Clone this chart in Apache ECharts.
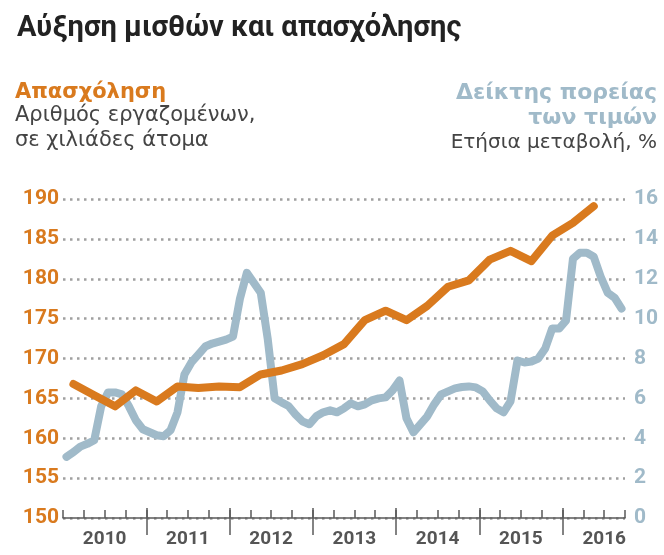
<!DOCTYPE html>
<html>
<head>
<meta charset="utf-8">
<script src="https://cdn.jsdelivr.net/npm/echarts@6/dist/echarts.min.js"></script>
<style>
html,body{margin:0;padding:0;background:#fff;}
#chart{width:664px;height:555px;}
</style>
</head>
<body>
<div id="chart"></div>
<script>
// ---- data ----
const empQuarters = ['2010Q1','2010Q2','2010Q3','2010Q4','2011Q1','2011Q2','2011Q3','2011Q4',
  '2012Q1','2012Q2','2012Q3','2012Q4','2013Q1','2013Q2','2013Q3','2013Q4',
  '2014Q1','2014Q2','2014Q3','2014Q4','2015Q1','2015Q2','2015Q3','2015Q4','2016Q1','2016Q2'];
const employment = [166.8,165.4,164.0,166.0,164.6,166.5,166.3,166.5,
  166.4,168.0,168.5,169.3,170.4,171.8,174.8,176.0,
  174.8,176.6,179.0,179.8,182.4,183.5,182.2,185.4,187.0,189.1];

const cpiMonths = [];
for (let y = 2010; y <= 2016; y++) for (let m = 1; m <= 12; m++) {
  if (y === 2016 && m > 9) break;
  cpiMonths.push(y + '-' + String(m).padStart(2, '0'));
}
const priceIndex = [3.07,3.3,3.58,3.72,3.9,5.6,6.3,6.3,6.2,5.6,4.9,4.45,
  4.3,4.15,4.1,4.4,5.3,7.2,7.8,8.2,8.6,8.75,8.85,8.95,
  9.1,11.0,12.3,11.8,11.3,9.0,6.0,5.8,5.62,5.2,4.85,4.7,
  5.1,5.3,5.4,5.3,5.5,5.75,5.6,5.7,5.9,6.0,6.05,6.4,
  6.9,5.0,4.3,4.7,5.1,5.7,6.2,6.35,6.5,6.57,6.6,6.55,
  6.35,5.9,5.5,5.3,5.85,7.9,7.8,7.85,8.0,8.5,9.5,9.5,
  9.9,13.0,13.3,13.3,13.1,12.1,11.3,11.05,10.5];

const leftTicks = [150,155,160,165,170,175,180,185,190];
const rightTicks = [0,2,4,6,8,10,12,14,16];
const yearLabels = ['2010','2011','2012','2013','2014','2015','2016'];

// ---- helpers (date -> fractional year) ----
function quarterToX(q){ const y = +q.slice(0,4), n = +q.slice(5); return y + (n - 0.5) / 4; }
function monthToX(s){ const y = +s.slice(0,4), m = +s.slice(5); return y + (m - 0.5) / 12; }

const empData = empQuarters.map((q, i) => [quarterToX(q), employment[i]]);
const cpiData = cpiMonths.map((s, i) => [monthToX(s), priceIndex[i]]).slice(0, priceIndex.length);

const ORANGE = '#d97a1e';
const BLUE = '#a0bac9';
const X_MIN = 2010, X_MAX = 2016.75;

const chart = echarts.init(document.getElementById('chart'));
chart.setOption({
  animation: false,
  backgroundColor: '#fff',
  grid: [
    {left: 63, right: 39, top: 199, bottom: 37},
    {left: 63, right: 39, top: 508, height: 27}
  ],
  xAxis: [
    {
      type: 'value', gridIndex: 0, min: X_MIN, max: X_MAX, interval: 0.25,
      axisLine: {show: true, lineStyle: {color: '#5a5a5a', width: 1.5}},
      axisTick: {show: true, inside: true, length: 8, lineStyle: {color: '#5a5a5a', width: 1.5}},
      splitLine: {show: false},
      axisLabel: {
        margin: 12, color: '#555', fontFamily: 'Roboto', fontWeight: 'bold', fontSize: 19,
        formatter: v => {
          const f = v - Math.floor(v);
          if (Math.abs(f - 0.5) < 1e-6) {
            const i = Math.floor(v) - 2010;
            return yearLabels[i] || '';
          }
          return '';
        }
      }
    },
    {
      type: 'value', gridIndex: 1, min: X_MIN, max: X_MAX, interval: 1,
      axisLine: {show: false}, axisTick: {show: false}, axisLabel: {show: false},
      splitLine: {show: true, showMinLine: false, showMaxLine: false,
        lineStyle: {color: '#5a5a5a', width: 1.5, type: 'solid'}}
    }
  ],
  yAxis: [
    {
      type: 'value', gridIndex: 0, min: leftTicks[0], max: leftTicks[leftTicks.length-1], interval: 5,
      position: 'left',
      axisLine: {show: false}, axisTick: {show: false},
      axisLabel: {margin: 4, color: ORANGE, fontFamily: 'Roboto', fontWeight: 'bold', fontSize: 21},
      splitLine: {show: true, lineStyle: {color: '#a0a0a0', width: 2.5, type: [2.5, 4.5]}}
    },
    {
      type: 'value', gridIndex: 0, min: rightTicks[0], max: rightTicks[rightTicks.length-1], interval: 2,
      position: 'right',
      axisLine: {show: false}, axisTick: {show: false},
      axisLabel: {margin: 9, color: BLUE, fontFamily: 'Roboto', fontWeight: 'bold', fontSize: 21},
      splitLine: {show: false}
    },
    {
      type: 'value', gridIndex: 1, min: 0, max: 1, show: false
    }
  ],
  series: [
    {
      name: 'Δείκτης πορείας των τιμών', type: 'line', xAxisIndex: 0, yAxisIndex: 1,
      data: cpiData, showSymbol: false, symbol: 'none',
      lineStyle: {color: BLUE, width: 8, join: 'round', cap: 'round'}, z: 3
    },
    {
      name: 'Απασχόληση', type: 'line', xAxisIndex: 0, yAxisIndex: 0,
      data: empData, showSymbol: false, symbol: 'none',
      lineStyle: {color: ORANGE, width: 8, join: 'round', cap: 'round'}, z: 4
    }
  ],
  graphic: [
    {type: 'text', left: 17, top: 14, style: {text: 'Αύξηση μισθών και απασχόλησης',
      fill: '#222', font: 'bold 29px Roboto'}},
    {type: 'text', x: 15, y: 93, style: {text: 'Απασχόληση', fill: ORANGE,
      font: 'bold 21px "DejaVu Sans"', verticalAlign: 'middle'}},
    {type: 'text', x: 15, y: 116, style: {text: 'Αριθμός εργαζομένων,', fill: '#444',
      font: '21px "DejaVu Sans"', verticalAlign: 'middle'}},
    {type: 'text', x: 15, y: 141, style: {text: 'σε χιλιάδες άτομα', fill: '#444',
      font: '21px "DejaVu Sans"', verticalAlign: 'middle'}},
    {type: 'text', x: 657, y: 93, style: {text: 'Δείκτης πορείας', fill: BLUE,
      font: 'bold 22px "DejaVu Sans"', align: 'right', verticalAlign: 'middle'}},
    {type: 'text', x: 657, y: 118, style: {text: 'των τιμών', fill: BLUE,
      font: 'bold 22px "DejaVu Sans"', align: 'right', verticalAlign: 'middle'}},
    {type: 'text', x: 657, y: 143, style: {text: 'Ετήσια μεταβολή, %', fill: '#444',
      font: '20px "DejaVu Sans"', align: 'right', verticalAlign: 'middle'}}
  ]
});
</script>
</body>
</html>
